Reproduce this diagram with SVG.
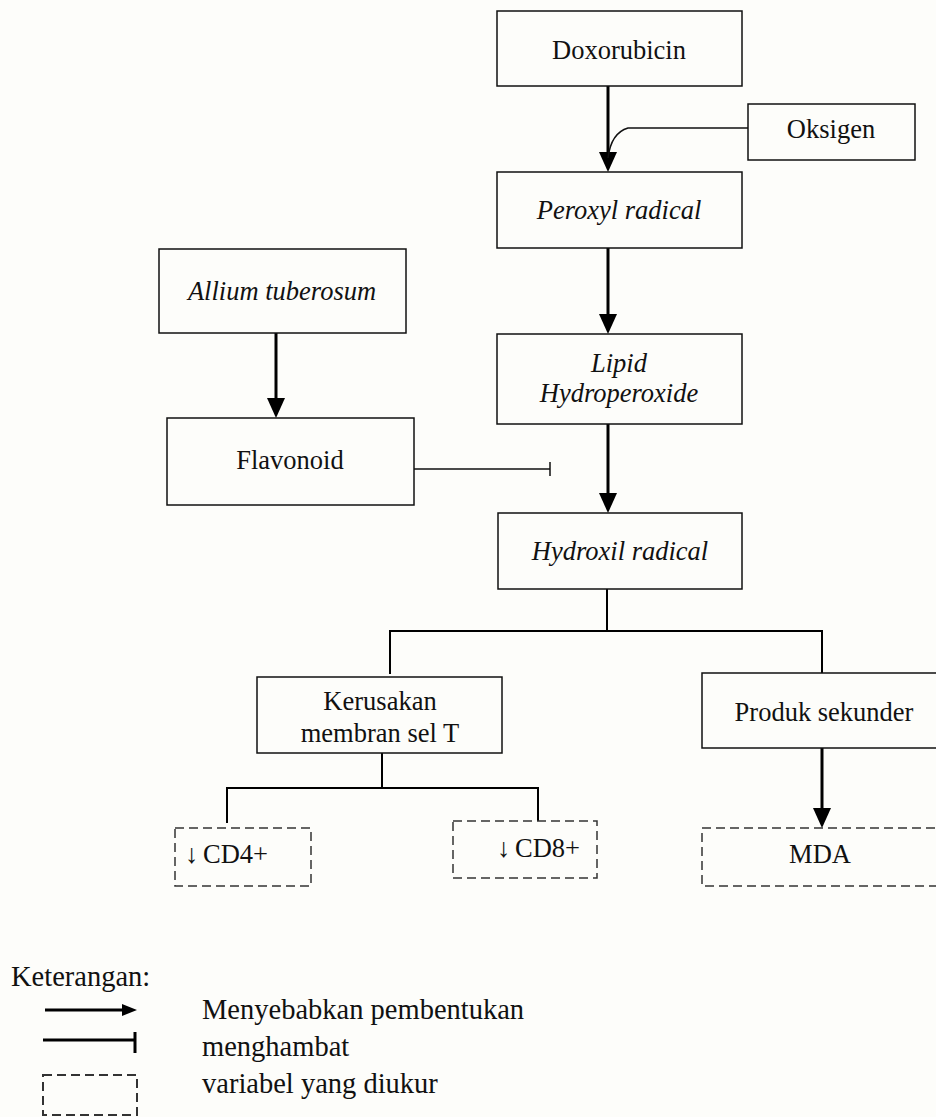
<svg xmlns="http://www.w3.org/2000/svg" width="936" height="1117" viewBox="0 0 936 1117">
<defs>
<style>
.box{fill:none;stroke:#111;stroke-width:1.5}
.dash{fill:none;stroke:#333;stroke-width:1.5;stroke-dasharray:9,5}
.t{font-family:"Liberation Serif","Times New Roman",serif;font-size:26.5px;fill:#111;text-anchor:middle}
.lg{font-family:"Liberation Serif","Times New Roman",serif;font-size:28.5px;fill:#111}
.i{font-style:italic}
.l{text-anchor:start}
.arr{fill:none;stroke:#000;stroke-width:3}
.ln{fill:none;stroke:#000;stroke-width:2}
.thin{fill:none;stroke:#111;stroke-width:1.5}
.head{fill:#000}
</style>
</defs>
<rect x="0" y="0" width="936" height="1117" fill="#fdfdfa"/>

<g id="connectors">
<path class="arr" d="M608,86 V154"/>
<path class="head" d="M599,152 L617,152 L608,172 Z"/>
<path class="thin" d="M748,128 H628 Q611,133 608,158"/>
<path class="arr" d="M608,248 V316"/>
<path class="head" d="M599,314 L617,314 L608,334 Z"/>
<path class="arr" d="M276,333 V400"/>
<path class="head" d="M267,398 L285,398 L276,418 Z"/>
<path class="thin" d="M414,469 H550 M550,462 V476"/>
<path class="arr" d="M608,424 V495"/>
<path class="head" d="M599,493 L617,493 L608,513 Z"/>
<path class="ln" d="M607,589 V631 M390,674 V631 H822 V673"/>
<path class="ln" d="M382,753 V788 M227,823 V788 H538 V821"/>
<path class="arr" d="M822,748 V810"/>
<path class="head" d="M813,808 L831,808 L822,828 Z"/>
</g>

<g id="doxorubicin"><rect class="box" x="497" y="11" width="245" height="75"/><text class="t" x="619" y="59">Doxorubicin</text></g>
<g id="oksigen"><rect class="box" x="748" y="104" width="167" height="56"/><text class="t" x="831" y="138">Oksigen</text></g>
<g id="peroxyl"><rect class="box" x="497" y="172" width="245" height="76"/><text class="t i" x="619" y="219">Peroxyl radical</text></g>
<g id="allium"><rect class="box" x="159" y="249" width="247" height="84"/><text class="t i" x="282" y="300">Allium tuberosum</text></g>
<g id="lipid"><rect class="box" x="497" y="334" width="245" height="90"/><text class="t i" x="619" y="372">Lipid</text><text class="t i" x="619" y="402">Hydroperoxide</text></g>
<g id="flavonoid"><rect class="box" x="167" y="418" width="247" height="87"/><text class="t" x="290" y="469">Flavonoid</text></g>
<g id="hydroxil"><rect class="box" x="498" y="513" width="244" height="76"/><text class="t i" x="620" y="560">Hydroxil radical</text></g>
<g id="kerusakan"><rect class="box" x="257" y="677" width="245" height="76"/><text class="t" x="380" y="710">Kerusakan</text><text class="t" x="380" y="742">membran sel T</text></g>
<g id="produk"><rect class="box" x="702" y="673" width="250" height="75"/><text class="t" x="824" y="721">Produk sekunder</text></g>
<g id="cd4"><rect class="dash" x="175" y="828" width="136" height="58"/><text class="t l" x="185" y="863">↓ <tspan x="203">CD4+</tspan></text></g>
<g id="cd8"><rect class="dash" x="453" y="821" width="144" height="57"/><text class="t l" x="497" y="857">↓ <tspan x="515">CD8+</tspan></text></g>
<g id="mda"><rect class="dash" x="702" y="828" width="250" height="58"/><text class="t" x="820" y="863">MDA</text></g>

<g id="legend">
<text class="lg" x="11" y="986">Keterangan:</text>
<path class="arr" d="M45,1010 H124"/>
<path class="head" d="M122,1004 L137,1010 L122,1016 Z"/>
<path class="arr" d="M43,1040 H135"/>
<path class="arr" d="M135,1032 V1053"/>
<rect class="dash" x="43" y="1075" width="94" height="40" style="stroke-width:2"/>
<text class="lg" x="202" y="1019">Menyebabkan pembentukan</text>
<text class="lg" x="202" y="1056">menghambat</text>
<text class="lg" x="202" y="1093">variabel yang diukur</text>
</g>
</svg>
